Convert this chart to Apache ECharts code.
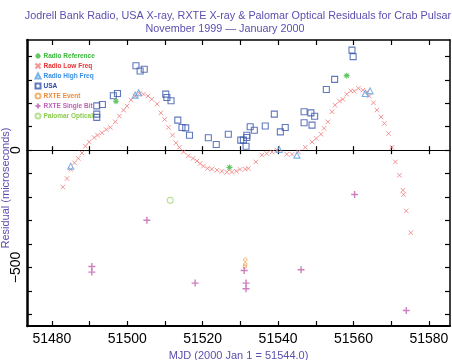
<!DOCTYPE html>
<html>
<head>
<meta charset="utf-8">
<script src="https://cdn.jsdelivr.net/npm/echarts@6/dist/echarts.min.js"></script>
<style>
html, body { margin: 0; padding: 0; background: #fff; }
#box { width: 452px; height: 360px; }
</style>
</head>
<body>
<div id="box"></div>
<script>
// tick values
var xMajor = [51480, 51500, 51520, 51540, 51560, 51580];
var xMinor = [51480, 51490, 51500, 51510, 51520, 51530, 51540, 51550, 51560, 51570, 51580];
var yMajor = [-500, 0];
var yMinor = [-700, -600, -500, -400, -300, -200, -100, 0, 100, 200, 300, 400];

// Radio Reference
var refMjd = [51497.0, 51527.1, 51558.2];
var refRes = [209, -74, 318];

// Radio Low Freq
var lowMjd = [51482.9, 51484.0, 51485.0, 51486.0, 51487.0, 51488.0, 51488.9, 51489.9, 51491.2, 51492.1,
	51493.3, 51494.4, 51495.5, 51496.8, 51497.9, 51499.0, 51499.9, 51501.0, 51502.1, 51503.2,
	51504.3, 51505.5, 51506.5, 51507.9, 51508.9, 51509.9, 51510.9, 51512.0, 51512.9, 51513.8,
	51514.9, 51516.2, 51517.4, 51518.5, 51519.3, 51520.2, 51521.3, 51522.4, 51523.8, 51525.1,
	51526.4, 51527.7, 51528.9, 51529.9, 51531.3, 51532.1, 51534.1, 51535.7, 51537.0, 51538.4,
	51539.7, 51542.3, 51543.7, 51545.4, 51547.2, 51549.0, 51550.1, 51551.4, 51552.2, 51553.2,
	51554.3, 51555.1, 51556.3, 51557.2, 51558.2, 51559.3, 51560.2, 51561.3, 51562.5, 51563.6,
	51564.2, 51565.3, 51566.2, 51567.3, 51568.2, 51569.3, 51570.2, 51571.1, 51572.2, 51573.1,
	51573.3, 51574.0, 51575.2];
var lowRes = [-157, -121, -82, -54, -35, -12, 17, 35, 54, 64,
	74, 88, 97, 121, 145, 171, 188, 214, 231, 242,
	239, 231, 217, 197, 159, 131, 97, 64, 31, 12,
	-7, -24, -35, -46, -57, -68, -78, -81, -85, -90,
	-94, -93, -90, -82, -81, -78, -50, -21, -14, -7,
	0, -17, -18, -7, 12, 35, 50, 68, 93, 121,
	164, 192, 209, 217, 239, 253, 252, 264, 256, 249,
	231, 202, 171, 142, 114, 71, 12, -50, -107, -171,
	-189, -259, -352];

// Radio High Freq
var highMjd = [51485.0, 51502.1, 51503.0, 51540.3, 51545.0, 51563.1, 51564.4];
var highRes = [-68, 235, 245, 3, -21, 242, 253];

// USA
var usaMjd = [51491.9, 51493.4, 51491.9, 51491.9, 51496.3, 51497.4, 51502.3, 51503.4, 51504.5, 51510.2,
	51510.5, 51511.6, 51513.4, 51514.5, 51515.5, 51516.5, 51521.5, 51523.6, 51526.8, 51530.1,
	51530.8, 51531.7, 51531.7, 51531.5, 51532.6, 51533.7, 51536.6, 51539.0, 51540.6, 51541.9,
	51546.9, 51546.9, 51548.7, 51549.7, 51549.0, 51552.8, 51555.0, 51559.6, 51559.9];
var usaRes = [189, 195, 154, 140, 232, 242, 360, 338, 345, 239,
	225, 211, 128, 97, 95, 64, 53, 24, 68, 43,
	43, 64, 54, 17, 100, 85, 103, 154, 78, 97,
	164, 117, 159, 145, 107, 259, 302, 427, 399];

// RXTE Event
var evtMjd = [51531.3, 51531.3, 51531.2];
var evtRes = [-467, -487, -496];

// RXTE Single Bit
var sbMjd = [51490.6, 51490.6, 51505.2, 51518.0, 51531.0, 51531.5, 51531.5, 51546.1, 51560.3, 51574.0];
var sbRes = [-496, -520, -299, -567, -513, -567, -591, -510, -189, -684];

// Palomar Optical
var palMjd = [51511.4];
var palRes = [-214];

function pairs(xs, ys) {
	return xs.map(function (x, i) { return [x, ys[i]]; });
}

var dom = document.getElementById('box');
var myChart = echarts.init(dom);

var xMin = 51473.4, xMax = 51585.6;
var yMin = -750, yMax = 470;
var titleColor = '#5a4fae';
var crossPath = 'path://M0,0L10,10M10,0L0,10';
var plusPath = 'path://M5,0L5,10M0,5L10,5';
var starPath = 'path://M5,0L5,10M0,5L10,5M1.5,1.5L8.5,8.5M8.5,1.5L1.5,8.5';

function legendItem(name, color) {
	return { name: name, textStyle: { color: color } };
}

var option = {
	animation: false,
	backgroundColor: '#fff',
	textStyle: { fontFamily: 'Liberation Sans' },
	graphic: [
		{ type: 'text', x: 238, y: 16, style: { text: 'Jodrell Bank Radio, USA X-ray, RXTE X-ray & Palomar Optical Residuals for Crab Pulsar', textAlign: 'center', textVerticalAlign: 'middle', fill: titleColor, font: '10.8px "Liberation Sans"' } },
		{ type: 'text', x: 225, y: 29, style: { text: 'November 1999 \u2014 January 2000', textAlign: 'center', textVerticalAlign: 'middle', fill: titleColor, font: '10.8px "Liberation Sans"' } }
	],
	grid: { left: 27, right: 2, top: 40, bottom: 34, outerBoundsMode: 'none', containLabel: false },
	legend: {
		orient: 'vertical',
		left: 33,
		top: 51,
		itemWidth: 5,
		itemHeight: 5,
		itemGap: 0,
		padding: 0,
		textStyle: { fontSize: 6.5, fontWeight: 'bold', lineHeight: 7.2, padding: [0, 0, 0, -2] },
		data: [
			legendItem('Radio Reference', '#3cb83c'),
			legendItem('Radio Low Freq', '#e83030'),
			legendItem('Radio High Freq', '#3c8fe0'),
			legendItem('USA', '#2c4aa0'),
			legendItem('RXTE Event', '#f08a3a'),
			legendItem('RXTE Single Bit', '#c060b8'),
			legendItem('Palomar Optical', '#8ccc50')
		]
	},
	xAxis: [
		{
			type: 'value', min: xMin, max: xMax, position: 'bottom',
			name: 'MJD (2000 Jan 1 = 51544.0)', nameLocation: 'middle', nameGap: 24, nameMoveOverlap: false,
			nameTextStyle: { color: titleColor, fontSize: 11 },
			axisLine: { onZero: false, lineStyle: { color: '#000', width: 2 } },
			axisTick: { inside: true, length: 5, customValues: xMinor, lineStyle: { color: '#000', width: 1.2 } },
			axisLabel: { customValues: xMajor, color: '#000', fontSize: 14, margin: 6, formatter: function (v) { return String(v); } },
			splitLine: { show: false }
		},
		{
			type: 'value', min: xMin, max: xMax, position: 'top',
			axisLine: { onZero: false, lineStyle: { color: '#000', width: 1.5 } },
			axisTick: { inside: true, length: 5, customValues: xMinor, lineStyle: { color: '#000', width: 1.2 } },
			axisLabel: { show: false },
			splitLine: { show: false }
		},
		{
			type: 'value', min: xMin, max: xMax, position: 'bottom',
			axisLine: { onZero: true, lineStyle: { color: '#000', width: 1.2 } },
			axisTick: { inside: true, length: 4, customValues: xMinor, lineStyle: { color: '#000', width: 1.2 } },
			axisLabel: { show: false },
			splitLine: { show: false }
		},
		{
			type: 'value', min: xMin, max: xMax, position: 'bottom',
			axisLine: { onZero: true, lineStyle: { color: '#000', width: 1.2 } },
			axisTick: { inside: false, length: 4, customValues: xMinor, lineStyle: { color: '#000', width: 1.2 } },
			axisLabel: { show: false },
			splitLine: { show: false }
		}
	],
	yAxis: [
		{
			type: 'value', min: yMin, max: yMax, position: 'left',
			name: 'Residual (microseconds)', nameLocation: 'middle', nameGap: 16, nameRotate: 90, nameMoveOverlap: false,
			nameTextStyle: { color: titleColor, fontSize: 11, padding: [0, 10, 0, 0] },
			axisLine: { onZero: false, lineStyle: { color: '#000', width: 2.5 } },
			axisTick: { inside: true, length: 5, customValues: yMinor, lineStyle: { color: '#000', width: 1.2 } },
			axisLabel: {
				customValues: yMajor, rotate: 90, color: '#000', fontSize: 14, margin: 4,
				formatter: function (v) { return v < 0 ? '\u2212' + (-v) : String(v); }
			},
			splitLine: { show: false }
		},
		{
			type: 'value', min: yMin, max: yMax, position: 'right',
			axisLine: { onZero: false, lineStyle: { color: '#000', width: 1.5 } },
			axisTick: { inside: true, length: 5, customValues: yMinor, lineStyle: { color: '#000', width: 1.2 } },
			axisLabel: { show: false },
			splitLine: { show: false }
		}
	],
	series: [
		{
			name: 'Radio Low Freq', type: 'scatter', z: 3,
			symbol: crossPath, symbolSize: 4.5,
			itemStyle: { color: 'none', borderColor: '#f07a7a', borderWidth: 1 },
			data: pairs(lowMjd, lowRes)
		},
		{
			name: 'USA', type: 'scatter', z: 4,
			symbol: 'rect', symbolSize: 6,
			itemStyle: { color: 'none', borderColor: '#3a58ab', borderWidth: 1.1 },
			data: pairs(usaMjd, usaRes)
		},
		{
			name: 'Radio High Freq', type: 'scatter', z: 5,
			symbol: 'triangle', symbolSize: 6,
			itemStyle: { color: 'none', borderColor: '#5aa0e0', borderWidth: 1.1 },
			data: pairs(highMjd, highRes)
		},
		{
			name: 'Radio Reference', type: 'scatter', z: 6,
			symbol: starPath, symbolSize: 6,
			itemStyle: { color: 'none', borderColor: '#3cb83c', borderWidth: 1.1 },
			data: pairs(refMjd, refRes)
		},
		{
			name: 'RXTE Event', type: 'scatter', z: 6,
			symbol: 'circle', symbolSize: 3.5,
			itemStyle: { color: 'none', borderColor: '#f0a050', borderWidth: 1 },
			data: pairs(evtMjd, evtRes)
		},
		{
			name: 'RXTE Single Bit', type: 'scatter', z: 7,
			symbol: plusPath, symbolSize: 7,
			itemStyle: { color: 'none', borderColor: '#c060b0', borderWidth: 1.4 },
			data: pairs(sbMjd, sbRes)
		},
		{
			name: 'Palomar Optical', type: 'scatter', z: 6,
			symbol: 'circle', symbolSize: 6,
			itemStyle: { color: 'none', borderColor: '#a8d880', borderWidth: 1.1 },
			data: pairs(palMjd, palRes)
		}
	]
};

myChart.setOption(option);
</script>
</body>
</html>
